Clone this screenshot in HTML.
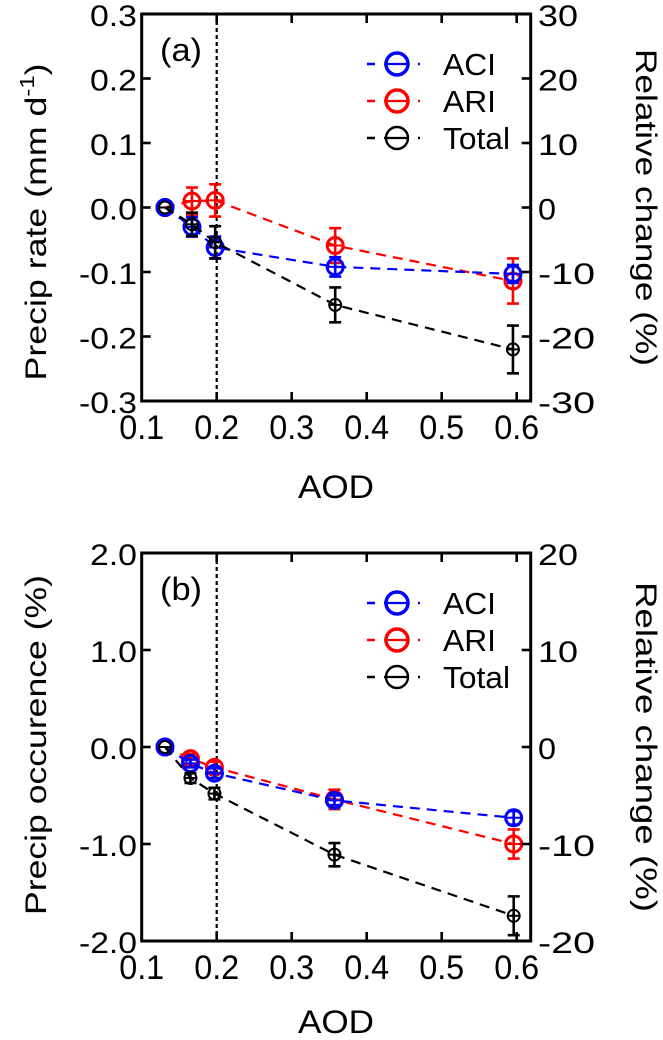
<!DOCTYPE html>
<html><head><meta charset="utf-8"><style>
html,body{margin:0;padding:0;background:#fff}
svg{display:block;font-family:"Liberation Sans",Arial,sans-serif}
</style></head><body>
<svg id="fig" width="663" height="1040" viewBox="0 0 663 1040" xmlns="http://www.w3.org/2000/svg"></svg>
<script>
// ---- data ----
const aodA = [0.131, 0.167, 0.198, 0.358, 0.595];
const aciA = [0, -0.030, -0.062, -0.092, -0.103];
const aciAErr = [0, 0.015, 0.017, 0.015, 0.014];
const ariA = [0, 0.010, 0.011, -0.059, -0.114];
const ariAErr = [0, 0.021, 0.025, 0.027, 0.035];
const totA = [0, -0.026, -0.054, -0.151, -0.220];
const totAErr = [0, 0.018, 0.025, 0.027, 0.037];

const aodB = [0.131, 0.165, 0.197, 0.357, 0.596];
const aciB = [0, -0.17, -0.27, -0.55, -0.73];
const aciBErr = [0, 0.04, 0.05, 0.05, 0.07];
const ariB = [0, -0.12, -0.21, -0.54, -1.00];
const ariBErr = [0, 0.05, 0.06, 0.10, 0.15];
const totB = [0, -0.32, -0.48, -1.11, -1.74];
const totBErr = [0, 0.05, 0.06, 0.12, 0.20];

const xTicks = [0.1, 0.2, 0.3, 0.4, 0.5, 0.6];
const xTickLabels = ["0.1","0.2","0.3","0.4","0.5","0.6"];
const yTicksA = [0.3,0.2,0.1,0,-0.1,-0.2,-0.3];
const yTickLabelsA = ["0.3","0.2","0.1","0.0","-0.1","-0.2","-0.3"];
const y2LabelsA = ["30","20","10","0","-10","-20","-30"];
const yTicksB = [2,1,0,-1,-2];
const yTickLabelsB = ["2.0","1.0","0.0","-1.0","-2.0"];
const y2LabelsB = ["20","10","0","-10","-20"];
const seriesNames = ["ACI","ARI","Total"];

const NS="http://www.w3.org/2000/svg";
const svg=document.getElementById('fig');
function mk(tag,attrs,parent){const e=document.createElementNS(NS,tag);for(const k in attrs)e.setAttribute(k,attrs[k]);(parent||svg).appendChild(e);return e;}
function txt(s,x,y,size,w,anchor,parent,rot){
  const t=mk('text',{x:x,y:y,'font-size':size,'text-anchor':anchor||'middle',fill:'#000'},parent);
  if(w){t.setAttribute('textLength',w);t.setAttribute('lengthAdjust','spacingAndGlyphs');}
  if(rot)t.setAttribute('transform','rotate('+rot+' '+x+' '+y+')');
  t.textContent=s;return t;}

function panel(cfg){
  const g=mk('g',{});
  
  
  const L=141.7,R=530.7,T=cfg.top,B=cfg.bottom;
  const xs=v=>L+(v-0.1)*750;
  const ys=v=>T+(cfg.ymax-v)/(cfg.ymax-cfg.ymin)*(B-T);
  // vertical dotted line
  const vl=mk('line',{x1:xs(0.2),x2:xs(0.2),y1:T,y2:B,stroke:'#000','stroke-width':2.2,'stroke-dasharray':'4,3'},g);
  
  
  // series
  const cols=['#0000ff','#ff0000','#000'];
  const data=[[cfg.aci,cfg.aciE],[cfg.ari,cfg.ariE],[cfg.tot,cfg.totE]];
  const order=[1,0,2];
  order.forEach(si=>{
    const [vals,errs]=data[si];const c=cols[si];
    const sg=mk('g',{},g);
    
    
    const pts=vals.map((v,i)=>xs(cfg.x[i])+','+ys(v)).join(' ');
    mk('polyline',{points:pts,fill:'none',stroke:c,'stroke-width':2.2,'stroke-dasharray':'10,7'},sg);
    vals.forEach((v,i)=>{
      const px=xs(cfg.x[i]),py=ys(v);
      if(errs[i]>0){
        const y1=ys(v+errs[i]),y2=ys(v-errs[i]);
        mk('path',{d:`M${px},${y1}V${y2}M${px-6},${y1}H${px+6}M${px-6},${y2}H${px+6}`,stroke:c,'stroke-width':2.6,fill:'none'},sg);
      }
      const r=si==2?6:8;
      const m=mk('circle',{cx:px,cy:py,r:r,fill:'none',stroke:c,'stroke-width':si==2?2:3},sg);
      
      
      mk('line',{x1:px-r,x2:px+r,y1:py,y2:py,stroke:c,'stroke-width':2},sg);
    });
  });
  // frame
  const fr=mk('rect',{x:L,y:T,width:R-L,height:B-T,fill:'none',stroke:'#000','stroke-width':3},g);
  
  
  // x ticks
  xTicks.forEach((v,i)=>{
    const px=xs(v);
    if(i>0){mk('line',{x1:px,x2:px,y1:B,y2:B-9,stroke:'#000','stroke-width':2.6},g);
    mk('line',{x1:px,x2:px,y1:T,y2:T+9,stroke:'#000','stroke-width':2.6},g);}
    const t=txt(xTickLabels[i],px,B+38,34,45,'middle',g);
    
    
  });
  cfg.yt.forEach((v,i)=>{
    const py=ys(v);
    mk('line',{x1:L,x2:L+9,y1:py,y2:py,stroke:'#000','stroke-width':2.6},g);
    mk('line',{x1:R,x2:R-9,y1:py,y2:py,stroke:'#000','stroke-width':2.6},g);
    const s=cfg.ytl[i];
    const t=txt(s,137,py+12,30,s.startsWith('-')?58:47,'end',g);
    
    
    const s2=cfg.y2l[i];
    const w2=s2.length==1?18:(s2.startsWith('-')?57:40);
    const t2=txt(s2,538,py+12,30,w2,'start',g);
    
    
  });
  // axis titles
  const mid=(T+B)/2;
  const yt=mk('text',{x:46,y:cfg.ytitleY,'font-size':30,'text-anchor':'middle',transform:`rotate(-90 46 ${cfg.ytitleY})`},g);
  
  
  yt.setAttribute('textLength',cfg.ytitleLen);
  yt.setAttribute('lengthAdjust','spacingAndGlyphs');
  if(cfg.sup){yt.innerHTML='Precip rate (mm d<tspan dy="-12" font-size="20">-1</tspan><tspan dy="12">)</tspan>';}
  else yt.textContent=cfg.ytitle;
  const rt=mk('text',{x:636,y:mid,'font-size':30,'text-anchor':'middle',transform:`rotate(90 636 ${mid})`,textLength:cfg.rtLen,lengthAdjust:'spacingAndGlyphs'},g);
  
  
  rt.textContent='Relative change (%)';
  const xt=txt('AOD',336,cfg.xtitleY,32,76,'middle',g);
  
  
  const pl=txt(cfg.label,181,T+47,32,42,'middle',g);
  
  
  // legend
  const lg=mk('g',{},g);
  
  
  const ly=[T+50,T+87,T+124];
  seriesNames.forEach((n,i)=>{
    const e=mk('g',{},lg);
    
    
    const c=cols[i],y=ly[i];
    mk('line',{x1:367,x2:420,y1:y,y2:y,stroke:c,'stroke-width':2.6,'stroke-dasharray':'8,9'},e);
    mk('circle',{cx:397,cy:y,r:11,fill:'#fff',stroke:c,'stroke-width':i==2?2.4:3.5},e);
    mk('line',{x1:386,x2:408,y1:y,y2:y,stroke:c,'stroke-width':2.2},e);
    txt(n,443,y+11,31,n=='Total'?67:53,'start',e);
  });
}
panel({name:'panel-a-precip-rate',top:14,bottom:401,ymax:0.3,ymin:-0.3,x:aodA,aci:aciA,aciE:aciAErr,ari:ariA,ariE:ariAErr,tot:totA,totE:totAErr,
  yt:yTicksA,ytl:yTickLabelsA,y2l:y2LabelsA,sup:true,ytitleY:222,ytitleLen:317,rtLen:317,xtitleY:498,label:'(a)'});
panel({name:'panel-b-precip-occurrence',top:553,bottom:941,ymax:2,ymin:-2,x:aodB,aci:aciB,aciE:aciBErr,ari:ariB,ariE:ariBErr,tot:totB,totE:totBErr,
  yt:yTicksB,ytl:yTickLabelsB,y2l:y2LabelsB,sup:false,ytitle:'Precip occurence (%)',ytitleY:745,ytitleLen:340,rtLen:330,xtitleY:1033,label:'(b)'});
</script>
</body></html>
